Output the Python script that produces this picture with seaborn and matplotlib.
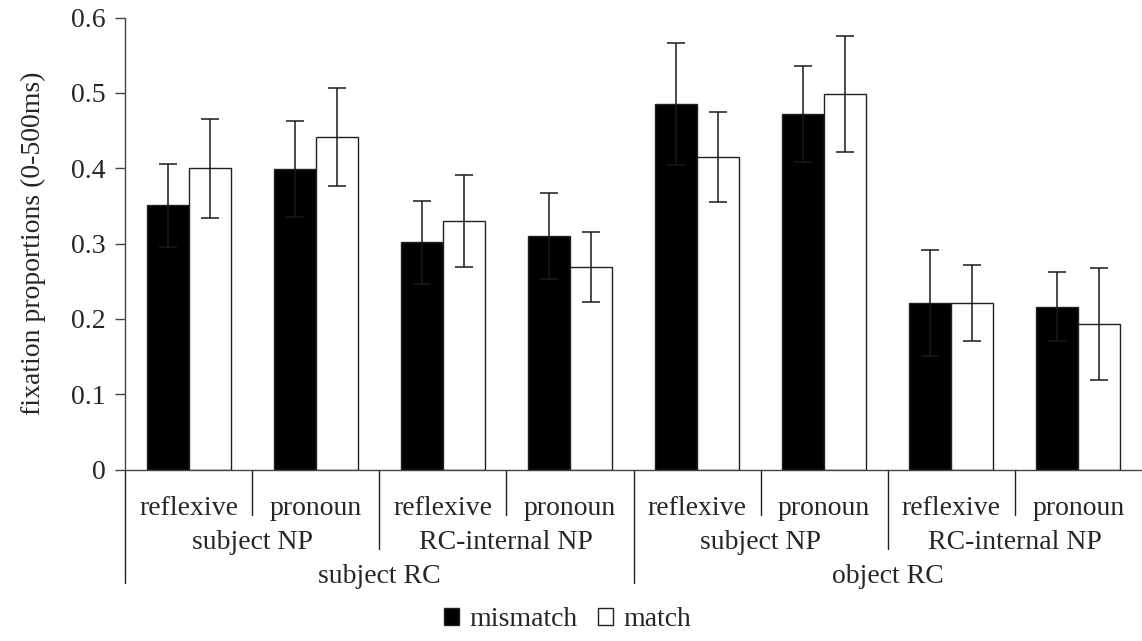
import numpy as np
import pandas as pd
import matplotlib
matplotlib.use("Agg")
import matplotlib.pyplot as plt
import matplotlib.transforms as mtransforms
import seaborn as sns

# condition hierarchy (outer -> inner)
rc_types = ["subject RC", "object RC"]
np_types = ["subject NP", "RC-internal NP"]
anaphors = ["reflexive", "pronoun"]

# fixation proportions (0-500ms), one value per leaf cell
mismatch_means = [0.351, 0.399, 0.302, 0.310, 0.485, 0.472, 0.221, 0.216]
mismatch_err = [0.055, 0.064, 0.055, 0.057, 0.081, 0.064, 0.070, 0.046]
match_means = [0.400, 0.442, 0.330, 0.269, 0.415, 0.499, 0.221, 0.193]
match_err = [0.066, 0.065, 0.061, 0.046, 0.060, 0.077, 0.051, 0.074]

agreement = ["mismatch", "match"]

sns.set_style("ticks")
plt.rcParams["font.family"] = ["Liberation Serif", "DejaVu Serif"]
plt.rcParams["font.size"] = 20

cells = []
for rc in rc_types:
    for npt in np_types:
        for an in anaphors:
            cells.append(rc + "|" + npt + "|" + an)

df = pd.DataFrame({
    "cell": cells * 2,
    "agreement": ["mismatch"] * len(cells) + ["match"] * len(cells),
    "prop": mismatch_means + match_means,
})
errs = {"mismatch": mismatch_err, "match": match_err}

fig = plt.figure(figsize=(11.42, 6.41), dpi=100)
ax = fig.add_axes([125 / 1142, 1 - 469.5 / 641, 1 - 125 / 1142, (469.5 - 17.7) / 641])

sns.barplot(data=df, x="cell", y="prop", hue="agreement", order=cells,
            hue_order=agreement, palette={"mismatch": "black", "match": "white"},
            edgecolor="#222222", linewidth=1.0, width=0.66, errorbar=None,
            saturation=1, ax=ax)

# error bars on top of each bar
for cont, lvl in zip(ax.containers, agreement):
    xs = [p.get_x() + p.get_width() / 2 for p in cont.patches]
    ys = [p.get_height() for p in cont.patches]
    ax.errorbar(xs, ys, yerr=errs[lvl], fmt="none", ecolor="#1a1a1a",
                elinewidth=1.1, capsize=6.5, capthick=1.1, zorder=5)

handles, labels = ax.get_legend_handles_labels()
ax.get_legend().remove()

ax.set_xlim(-0.5, len(cells) - 0.5)
ax.set_ylim(0, 0.6)
ax.set_yticks([0, 0.1, 0.2, 0.3, 0.4, 0.5, 0.6])
ax.set_yticklabels(["0", "0.1", "0.2", "0.3", "0.4", "0.5", "0.6"])
ax.tick_params(axis="y", length=7, width=1, color="#444444", pad=7)
ax.tick_params(axis="x", length=0, labelbottom=False)
ax.set_xlabel("")
ax.set_ylabel("fixation proportions (0-500ms)", labelpad=18)
sns.despine(ax=ax)
for s in ["left", "bottom"]:
    ax.spines[s].set_color("#444444")
    ax.spines[s].set_linewidth(1.0)

# hierarchical category axis
trans = mtransforms.blended_transform_factory(ax.transData, ax.transAxes)
lvl_y = [-0.101, -0.176, -0.251]
line_kw = dict(color="#222222", lw=1.0, transform=trans, clip_on=False)

for i, c in enumerate(cells):
    ax.text(i, lvl_y[0], c.split("|")[2], ha="center", va="baseline", transform=trans)
n_np = len(anaphors)
for j in range(len(rc_types) * len(np_types)):
    ax.text(j * n_np + (n_np - 1) / 2, lvl_y[1], (np_types * 2)[j],
            ha="center", va="baseline", transform=trans)
n_rc = len(np_types) * len(anaphors)
for k, rc in enumerate(rc_types):
    ax.text(k * n_rc + (n_rc - 1) / 2, lvl_y[2], rc,
            ha="center", va="baseline", transform=trans)

for b in range(len(cells)):
    x = b - 0.5
    if b % n_rc == 0:
        end = lvl_y[2]
    elif b % n_np == 0:
        end = lvl_y[1]
    else:
        end = lvl_y[0]
    ax.plot([x, x], [0, end], **line_kw)

fig.legend(handles, labels, loc="lower center", bbox_to_anchor=(0.497, -0.004),
           ncol=2, frameon=False, handlelength=0.55, handleheight=0.55,
           handletextpad=0.36, columnspacing=0.75, borderaxespad=0.0)

fig.savefig("out.png", dpi=100)
